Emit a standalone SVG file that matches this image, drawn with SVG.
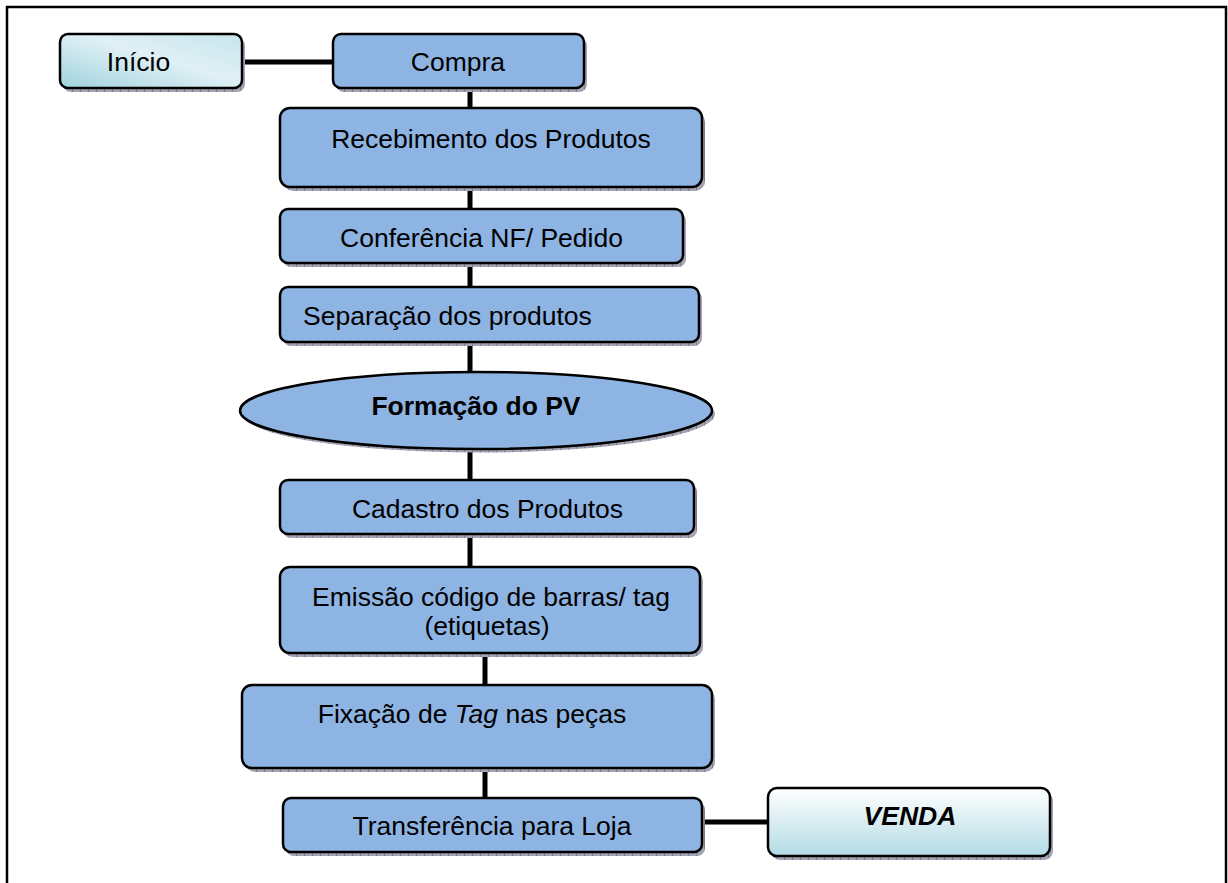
<svg xmlns="http://www.w3.org/2000/svg" width="1228" height="883" viewBox="0 0 1228 883">
<defs>
<linearGradient id="gInicio" x1="0" y1="1" x2="1" y2="0">
<stop offset="0" stop-color="#9FD2DE"/>
<stop offset="0.55" stop-color="#E0F0F5"/>
<stop offset="1" stop-color="#C6E5ED"/>
</linearGradient>
<linearGradient id="gVenda" x1="0" y1="0" x2="0" y2="1">
<stop offset="0" stop-color="#FFFFFF"/>
<stop offset="1" stop-color="#B3DBE5"/>
</linearGradient>
<pattern id="shadowPat" width="8" height="4" patternUnits="userSpaceOnUse">
<rect width="8" height="4" fill="#A3A3B3"/>
<rect width="1" height="4" fill="#7E7E92"/>
</pattern>
</defs>
<style>
.box{fill:#8EB4E3;stroke:#000;stroke-width:2.5}
.shadow{fill:url(#shadowPat)}
.lbl{font-family:"Liberation Sans",Arial,sans-serif;font-size:26.5px;fill:#000;text-anchor:middle}
.bold{font-weight:bold}
.conn{stroke:#000;stroke-width:5;fill:none}
</style>
<rect x="0" y="0" width="1228" height="883" fill="#fff"/>
<rect x="7" y="7" width="1219" height="890" fill="none" stroke="#000" stroke-width="2.5"/>

<g id="connectors">
<line class="conn" x1="242" y1="62" x2="333" y2="62"/>
<line class="conn" x1="470" y1="88" x2="470" y2="108"/>
<line class="conn" x1="470" y1="187" x2="470" y2="209"/>
<line class="conn" x1="470" y1="263" x2="470" y2="287"/>
<line class="conn" x1="470" y1="342" x2="470" y2="372"/>
<line class="conn" x1="470" y1="449" x2="470" y2="480"/>
<line class="conn" x1="470" y1="534" x2="470" y2="567"/>
<line class="conn" x1="485" y1="653" x2="485" y2="685"/>
<line class="conn" x1="485" y1="768" x2="485" y2="798"/>
<line class="conn" x1="702" y1="822" x2="768" y2="822"/>
</g>

<g id="inicio">
<rect class="shadow" x="63" y="38" width="182" height="54" rx="8"/>
<rect x="60" y="34" width="182" height="54" rx="8" fill="url(#gInicio)" stroke="#000" stroke-width="2.5"/>
<text class="lbl" x="138.5" y="71">Início</text>
</g>

<g id="compra">
<rect class="shadow" x="336" y="38" width="251" height="54" rx="8"/>
<rect class="box" x="333" y="34" width="251" height="54" rx="8"/>
<text class="lbl" x="458" y="71">Compra</text>
</g>

<g id="recebimento">
<rect class="shadow" x="283" y="112" width="422" height="79" rx="10"/>
<rect class="box" x="280" y="108" width="422" height="79" rx="10"/>
<text class="lbl" x="491" y="148">Recebimento dos Produtos</text>
</g>

<g id="conferencia">
<rect class="shadow" x="283" y="213" width="403" height="54" rx="8"/>
<rect class="box" x="280" y="209" width="403" height="54" rx="8"/>
<text class="lbl" x="481.5" y="247">Conferência NF/ Pedido</text>
</g>

<g id="separacao">
<rect class="shadow" x="283" y="291" width="419" height="55" rx="8"/>
<rect class="box" x="280" y="287" width="419" height="55" rx="8"/>
<text class="lbl" x="303" y="325" style="text-anchor:start">Separação dos produtos</text>
</g>

<g id="formacao">
<ellipse class="shadow" cx="479" cy="414" rx="236" ry="38.5"/>
<ellipse class="box" cx="476" cy="410.5" rx="236" ry="38.5"/>
<text class="lbl bold" x="476" y="415">Formação do PV</text>
</g>

<g id="cadastro">
<rect class="shadow" x="283" y="484" width="414" height="54" rx="8"/>
<rect class="box" x="280" y="480" width="414" height="54" rx="8"/>
<text class="lbl" x="487.5" y="518">Cadastro dos Produtos</text>
</g>

<g id="emissao">
<rect class="shadow" x="283" y="571" width="420" height="86" rx="10"/>
<rect class="box" x="280" y="567" width="420" height="86" rx="10"/>
<text class="lbl" x="491" y="606">Emissão código de barras/ tag</text>
<text class="lbl" x="487" y="635">(etiquetas)</text>
</g>

<g id="fixacao">
<rect class="shadow" x="245" y="689" width="470" height="83" rx="10"/>
<rect class="box" x="242" y="685" width="470" height="83" rx="10"/>
<text class="lbl" x="472" y="723">Fixação de <tspan font-style="italic">Tag</tspan> nas peças</text>
</g>

<g id="transferencia">
<rect class="shadow" x="286" y="802" width="419" height="54" rx="8"/>
<rect class="box" x="283" y="798" width="419" height="54" rx="8"/>
<text class="lbl" x="492" y="835">Transferência para Loja</text>
</g>

<g id="venda">
<rect class="shadow" x="771" y="792" width="282" height="68" rx="9"/>
<rect x="768" y="788" width="282" height="68" rx="9" fill="url(#gVenda)" stroke="#000" stroke-width="2.5"/>
<text class="lbl bold" x="910" y="825" font-style="italic">VENDA</text>
</g>
</svg>
